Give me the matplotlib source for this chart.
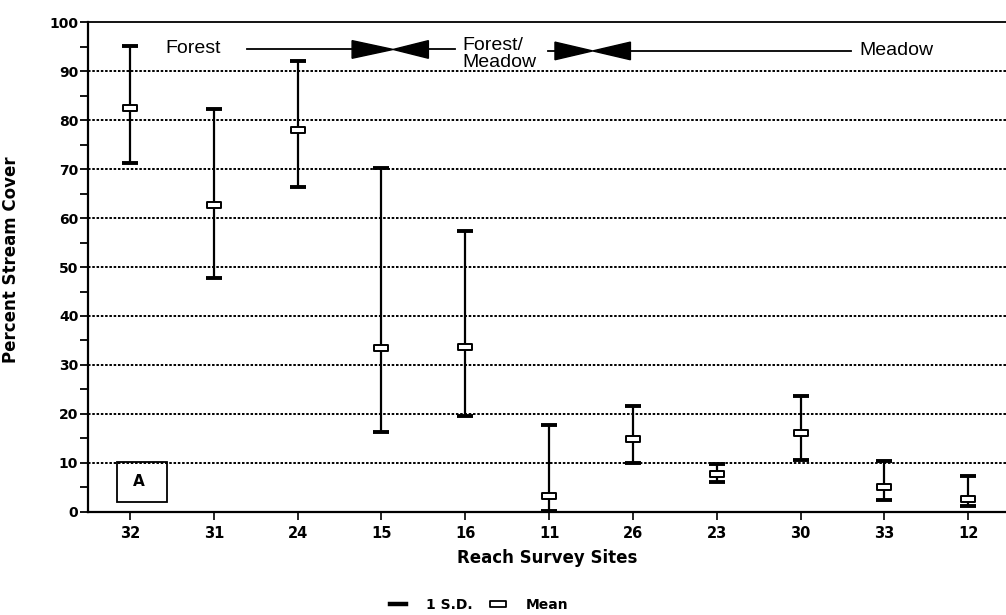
import matplotlib
matplotlib.use("Agg")
import matplotlib.pyplot as plt
from matplotlib.lines import Line2D
from matplotlib.patches import Rectangle
from matplotlib.path import Path
import numpy as np

# reach survey sites, in plotting order
sites = ['32', '31', '24', '15', '16', '11', '26', '23', '30', '33', '12']
mean_cover = [82.4, 62.7, 77.9, 33.5, 33.6, 3.2, 14.9, 7.8, 16.1, 5.1, 2.7]
sd_high = [95.1, 82.3, 92.0, 70.2, 57.4, 17.8, 21.6, 9.7, 23.7, 10.5, 7.3]
sd_low = [71.3, 47.8, 66.4, 16.3, 19.6, 0.2, 10.0, 6.1, 10.7, 2.5, 1.2]

plt.rcParams['font.family'] = ['DejaVu Sans']

fig = plt.figure(figsize=(10.06, 6.15), dpi=100)
ax = fig.add_axes([0.0875, 0.1675, 0.9125, 0.7967])

x = np.arange(len(sites))
mean = np.array(mean_cover)
lo = mean - np.array(sd_low)
hi = np.array(sd_high) - mean

# hollow flat rectangle used for the means
rect_marker = Path([(-1, -0.4), (1, -0.4), (1, 0.4), (-1, 0.4), (-1, -0.4)],
                   [Path.MOVETO, Path.LINETO, Path.LINETO, Path.LINETO, Path.CLOSEPOLY])

ax.errorbar(x, mean, yerr=[lo, hi], fmt='none', ecolor='black',
            elinewidth=1.6, capsize=5.8, capthick=2.8, zorder=3)
ax.plot(x, mean, ls='none', marker=rect_marker, ms=10, mfc='white',
        mec='black', mew=1.4, zorder=4)

ax.set_xlim(-0.5, 10.45)
ax.set_ylim(0, 100)

# axes styling
ax.spines['right'].set_visible(False)
for s in ['left', 'bottom', 'top']:
    ax.spines[s].set_linewidth(1.6)
ax.spines['top'].set_linewidth(1.3)

ax.set_yticks(np.arange(0, 101, 10))
ax.set_yticks(np.arange(5, 100, 10), minor=True)
ax.tick_params(axis='y', which='major', direction='out', length=6, width=1.3,
               labelsize=10, pad=1)
ax.tick_params(axis='y', which='minor', direction='out', length=5.5, width=1.3)
ax.set_xticks(x)
ax.set_xticklabels(sites)
ax.tick_params(axis='x', direction='out', length=6, width=1.2, labelsize=10.5, pad=4)
for lab in ax.get_xticklabels() + ax.get_yticklabels():
    lab.set_fontweight('bold')

# dotted gridlines at the labelled values
for g in range(10, 100, 10):
    ax.axhline(g, color='black', lw=1.4, ls=(0, (1.3, 0.9)), zorder=1)

ax.set_ylabel('Percent Stream Cover', fontsize=12, fontweight='bold')
ax.yaxis.set_label_coords(-0.074, 0.515)
ax.set_xlabel('Reach Survey Sites', fontsize=12, fontweight='bold')
ax.xaxis.set_label_coords(0.5, -0.075)

# habitat zone annotation across the top
tfont = dict(family='Liberation Sans', fontsize=14, color='black')
ax.text(0.42, 94.5, 'Forest', ha='left', va='center', **tfont)
ax.plot([1.40, 2.65], [94.5, 94.5], color='black', lw=1.3)
ax.plot([3.56, 3.88], [94.4, 94.4], color='black', lw=1.3)
ax.fill([2.65, 3.14, 2.65], [96.2, 94.4, 92.6], color='black')
ax.fill([3.56, 3.14, 3.56], [96.2, 94.4, 92.6], color='black')
ax.text(3.96, 93.4, 'Forest/\nMeadow', ha='left', va='center',
        linespacing=1.0, **tfont)
ax.plot([4.99, 5.07], [94.1, 94.1], color='black', lw=1.3)
ax.fill([5.07, 5.52, 5.07], [95.9, 94.1, 92.3], color='black')
ax.fill([5.97, 5.52, 5.97], [95.9, 94.1, 92.3], color='black')
ax.plot([5.97, 8.60], [94.1, 94.1], color='black', lw=1.3)
ax.text(8.70, 94.2, 'Meadow', ha='left', va='center', **tfont)

# panel label
ax.add_patch(Rectangle((-0.155, 2.0), 0.6, 8.2, fill=False, ec='black',
                       lw=1.3, zorder=5))
ax.text(0.10, 6.2, 'A', ha='center', va='center', fontsize=11,
        fontweight='bold', zorder=6)

# legend below the axis
handles = [Line2D([], [], color='black', lw=3.2),
           Line2D([], [], ls='none', marker=rect_marker, ms=11.5, mfc='white',
                  mec='black', mew=1.3)]
fig.legend(handles, ['1 S.D.', 'Mean'], loc='center', ncol=2,
           bbox_to_anchor=(0.476, 0.017), frameon=False, handlelength=1.2,
           handletextpad=1.4, columnspacing=1.2,
           prop=dict(weight='bold', size=10))

fig.savefig('out.png', dpi=100)
